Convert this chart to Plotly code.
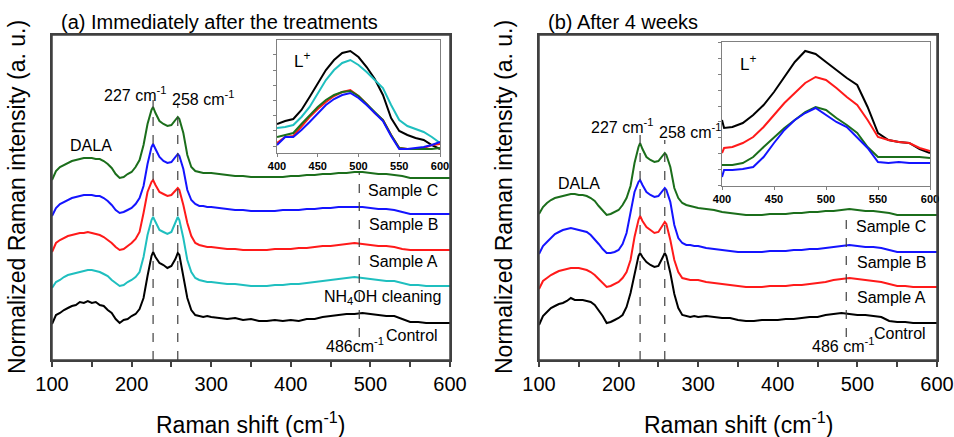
import plotly.graph_objects as go

# ---------------- data ----------------
x_main = [100, 105, 110, 115, 120, 125, 130, 135, 140, 145, 150, 155, 160, 165, 170, 175, 180, 185, 190, 195,
          200, 205, 210, 215, 220, 225, 227, 230, 235, 240, 245, 250, 255, 258, 260, 265, 270, 275, 280, 285,
          290, 295, 300, 310, 320, 330, 340, 350, 360, 370, 380, 390, 400, 410, 420, 430, 440, 450, 460, 470,
          480, 490, 500, 510, 520, 530, 540, 550, 560, 570, 580, 590, 600]

# panel (a) immediately after the treatments (stacked, arbitrary units)
a_control = [36, 45, 47, 50, 52, 54, 55, 58, 57, 59, 57, 58, 55, 54, 50, 47, 41, 37, 40, 41,
             44, 46, 51, 62, 84, 104, 108, 103, 97, 95, 92, 94, 101, 107, 105, 84, 62, 50, 45, 44,
             43, 44, 43, 42, 41, 42, 40, 41, 39, 39, 40, 39, 40, 39, 41, 41, 43, 44, 45, 46,
             46, 47, 46, 45, 44, 44, 41, 38, 38, 37, 37, 37, 37]
a_nh4oh = [72, 78, 80, 83, 85, 86, 87, 88, 89, 90, 90, 89, 88, 86, 84, 80, 77, 74, 75, 78,
           80, 83, 88, 103, 125, 140, 143, 138, 130, 128, 126, 128, 137, 143, 140, 122, 100, 88, 82, 80,
           79, 78, 78, 77, 76, 76, 75, 74, 74, 74, 75, 75, 76, 76, 77, 78, 79, 80, 81, 82,
           83, 82, 81, 80, 79, 79, 77, 75, 75, 74, 74, 74, 74]
a_sample_a = [108, 117, 120, 122, 124, 125, 126, 127, 127, 128, 127, 126, 125, 123, 120, 117, 113, 110, 111, 114,
              117, 121, 128, 147, 168, 178, 180, 175, 168, 166, 164, 165, 170, 172, 170, 155, 137, 124, 117, 115,
              114, 113, 113, 112, 111, 111, 110, 110, 110, 110, 111, 111, 111, 112, 112, 113, 114, 114, 115, 116,
              117, 116, 115, 114, 114, 113, 111, 110, 110, 110, 110, 110, 110]
a_sample_b = [144, 152, 156, 158, 160, 162, 163, 164, 165, 165, 165, 164, 164, 162, 159, 155, 150, 147, 148, 150,
              152, 156, 162, 174, 196, 213, 216, 211, 203, 199, 197, 198, 203, 206, 204, 191, 170, 160, 156, 154,
              154, 153, 153, 152, 151, 150, 150, 149, 149, 149, 149, 150, 150, 150, 151, 151, 152, 152, 153, 153,
              153, 153, 152, 151, 151, 150, 148, 146, 146, 146, 146, 146, 146]
a_sample_c = [180, 189, 193, 195, 197, 199, 200, 201, 202, 202, 202, 201, 201, 199, 196, 192, 186, 182, 183, 186,
              188, 193, 200, 215, 236, 250, 253, 247, 239, 236, 234, 235, 240, 243, 241, 227, 205, 193, 189, 188,
              187, 187, 187, 186, 185, 184, 184, 183, 183, 183, 183, 183, 184, 184, 185, 185, 186, 186, 187, 187,
              188, 188, 187, 186, 186, 185, 184, 182, 182, 182, 182, 182, 182]

# panel (b) after 4 weeks
b_control = [35, 44, 48, 52, 54, 56, 57, 59, 62, 60, 60, 60, 59, 58, 55, 50, 44, 37, 38, 40,
             42, 45, 53, 67, 87, 104, 107, 103, 98, 95, 93, 94, 102, 107, 104, 87, 66, 52, 45, 44,
             43, 44, 43, 44, 43, 42, 42, 40, 39, 39, 40, 40, 40, 41, 41, 42, 43, 43, 45, 46,
             47, 46, 45, 45, 44, 43, 39, 38, 38, 37, 37, 37, 37]
b_sample_a = [71, 79, 82, 85, 87, 89, 90, 91, 92, 92, 92, 91, 90, 88, 85, 81, 77, 73, 74, 76,
              78, 82, 88, 100, 123, 140, 144, 139, 133, 130, 127, 128, 134, 138, 136, 120, 100, 88, 82, 81,
              80, 80, 80, 78, 77, 76, 75, 74, 73, 73, 73, 74, 74, 74, 75, 75, 76, 77, 78, 80,
              81, 82, 81, 80, 79, 78, 76, 74, 74, 73, 73, 73, 73]
b_sample_b = [106, 114, 118, 122, 126, 128, 130, 131, 132, 131, 130, 129, 128, 125, 121, 116, 111, 107, 107, 108,
              110, 116, 127, 147, 168, 178, 180, 175, 168, 165, 163, 164, 169, 172, 170, 158, 135, 122, 117, 115,
              115, 114, 114, 112, 111, 110, 109, 108, 108, 108, 108, 109, 109, 109, 110, 110, 111, 111, 112, 113,
              114, 115, 114, 113, 113, 112, 110, 108, 108, 108, 108, 108, 108]
b_sample_c = [146, 153, 157, 160, 162, 163, 164, 165, 166, 166, 165, 165, 164, 162, 159, 154, 149, 145, 146, 148,
              150, 155, 162, 174, 197, 213, 217, 211, 203, 200, 198, 199, 204, 207, 205, 193, 172, 162, 157, 155,
              154, 153, 152, 151, 150, 148, 147, 146, 145, 145, 145, 146, 146, 146, 147, 147, 148, 148, 149, 149,
              150, 151, 150, 149, 149, 148, 147, 145, 145, 145, 145, 145, 145]

# insets (L+ band)
x_inset_a = [400, 410, 420, 430, 440, 450, 460, 470, 480, 490, 500, 510, 520, 530, 540, 550, 560, 570, 580, 590, 600]
ia_control = [29, 32, 34, 43, 56, 70, 83, 93, 100, 102, 96, 86, 74, 58, 35, 22, 18, 15, 13, 8, 4]
ia_nh4oh = [25, 26, 28, 36, 46, 59, 73, 83, 90, 93, 88, 81, 73, 65, 48, 33, 27, 24, 21, 16, 10]
ia_sample_a = [10, 16, 17, 27, 36, 44, 51, 57, 61, 63, 57, 49, 40, 33, 18, 5, 4, 4, 5, 8, 9]
ia_sample_c = [16, 18, 20, 29, 38, 46, 53, 58, 61, 62, 57, 49, 40, 33, 18, 5, 4, 4, 4, 4, 5]
ia_sample_b = [8, 16, 16, 23, 31, 40, 48, 54, 58, 60, 55, 48, 40, 32, 17, 4, 4, 5, 6, 8, 11]

x_inset_b = [400, 402, 410, 420, 430, 440, 450, 460, 470, 480, 490, 500, 510, 520, 530, 540, 550, 560, 570, 580, 590, 600]
ib_control = [66, 58, 59, 63, 71, 81, 94, 109, 124, 135, 132, 124, 116, 108, 101, 79, 53, 46, 44, 43, 37, 33]
ib_sample_a = [33, 38, 39, 43, 49, 59, 71, 83, 93, 103, 109, 106, 98, 89, 81, 66, 49, 46, 44, 43, 38, 35]
ib_sample_c = [21, 21, 21, 23, 29, 39, 49, 58, 66, 74, 79, 76, 68, 61, 53, 39, 29, 29, 29, 29, 29, 28]
ib_sample_b = [9, 16, 16, 17, 19, 29, 43, 56, 66, 73, 78, 71, 64, 59, 49, 38, 24, 23, 24, 23, 23, 23]

peak_positions = [227, 258, 486]
x_ticks_main = [100, 200, 300, 400, 500, 600]
x_ticks_inset = [400, 450, 500, 550, 600]

# ---------------- styling ----------------
W, H = 954, 437
FONT = "Liberation Sans, Arial, sans-serif"
C_BLACK = "#000000"
C_CYAN = "#1FBFBF"
C_RED = "#FF1A1A"
C_BLUE = "#1414FF"
C_GREEN = "#1B6E1B"
AX = "#404040"


def px(x):
    return x / W


def py(y):
    return 1 - y / H


fig = go.Figure()


def add(x, y, color, xa, ya, width=2):
    fig.add_trace(go.Scatter(x=x, y=y, mode="lines", line=dict(color=color, width=width),
                             xaxis=xa, yaxis=ya, showlegend=False, hoverinfo="skip"))


# main (a)
for ser, col in [(a_control, C_BLACK), (a_nh4oh, C_CYAN), (a_sample_a, C_RED),
                 (a_sample_b, C_BLUE), (a_sample_c, C_GREEN)]:
    add(x_main, ser, col, "x", "y")
# main (b)
for ser, col in [(b_control, C_BLACK), (b_sample_a, C_RED), (b_sample_b, C_BLUE), (b_sample_c, C_GREEN)]:
    add(x_main, ser, col, "x2", "y2")
# inset (a)
for ser, col in [(ia_control, C_BLACK), (ia_nh4oh, C_CYAN), (ia_sample_a, C_RED),
                 (ia_sample_c, C_GREEN), (ia_sample_b, C_BLUE)]:
    add(x_inset_a, ser, col, "x3", "y3")
# inset (b)
for ser, col in [(ib_control, C_BLACK), (ib_sample_a, C_RED), (ib_sample_c, C_GREEN), (ib_sample_b, C_BLUE)]:
    add(x_inset_b, ser, col, "x4", "y4")

main_x = dict(range=[100, 600], tickvals=x_ticks_main, ticks="outside", ticklen=5, tickwidth=1.5,
              tickcolor=AX, showline=True, linecolor=AX, linewidth=1.5, mirror=True, showgrid=False,
              zeroline=False, automargin=False, tickfont=dict(family=FONT, size=20, color="#000"),
              minor=dict(dtick=50, ticks="outside", ticklen=5, tickwidth=1.5, tickcolor=AX))
main_y = dict(range=[0, 325], showticklabels=False, ticks="", showline=True, linecolor=AX, linewidth=1.5,
              mirror=True, showgrid=False, zeroline=False, automargin=False)
inset_x = dict(range=[400, 600], tickvals=x_ticks_inset, ticks="outside", ticklen=3, tickcolor="#808080",
               showline=True, linecolor="#808080", linewidth=1, mirror=True, showgrid=False, zeroline=False,
               automargin=False, tickfont=dict(family=FONT, size=11, color="#000", weight="bold"))
inset_y = dict(showticklabels=False, ticks="outside", ticklen=3, tickcolor="#808080", showline=True,
               linecolor="#808080", linewidth=1, mirror=True, showgrid=False, zeroline=False, automargin=False)

fig.update_layout(
    width=W, height=H, margin=dict(l=0, r=0, t=0, b=0, pad=0, autoexpand=False),
    paper_bgcolor="white", plot_bgcolor="rgba(0,0,0,0)", showlegend=False,
    font=dict(family=FONT, color="#000"),
    xaxis=dict(domain=[px(52), px(450)], anchor="y", **main_x),
    yaxis=dict(domain=[py(360), py(35)], anchor="x", **main_y),
    xaxis2=dict(domain=[px(539), px(937)], anchor="y2", **main_x),
    yaxis2=dict(domain=[py(360), py(35)], anchor="x2", **main_y),
    xaxis3=dict(domain=[px(277), px(440)], anchor="y3", **inset_x),
    yaxis3=dict(domain=[py(153), py(40)], anchor="x3", range=[0, 113], tick0=7, dtick=15.2, **inset_y),
    xaxis4=dict(domain=[px(722), px(930)], anchor="y4", **inset_x),
    yaxis4=dict(domain=[py(186), py(42)], anchor="x4", range=[0, 144], tick0=1, dtick=15.8, **inset_y),
)

# frames of the two main panels and dashed marker lines
shapes = []
for xr, yr in (("x", "y"), ("x2", "y2")):
    shapes.append(dict(type="rect", xref=xr + " domain", yref=yr + " domain", x0=0, x1=1, y0=0, y1=1,
                       line=dict(color=AX, width=1.5), fillcolor="rgba(0,0,0,0)", layer="above"))
dash_spec = [("x", "y", [(0, 260), (0, 257), (23, 187)]),
             ("x2", "y2", [(0, 225), (0, 220), (23, 147)])]
for xr, yr, spans in dash_spec:
    for pos, (y0, y1) in zip(peak_positions, spans):
        shapes.append(dict(type="line", xref=xr, yref=yr, x0=pos, x1=pos, y0=y0, y1=y1,
                           line=dict(color="#404040", width=1.2, dash="dash")))
fig.update_layout(shapes=shapes)

ann = []


def label(text, x, y, xref, yref, size=16, xanchor="center", yanchor="middle", angle=0):
    ann.append(dict(text=text, x=x, y=y, xref=xref, yref=yref, showarrow=False, xanchor=xanchor,
                    yanchor=yanchor, textangle=angle, font=dict(family=FONT, size=size, color="#000")))


# panel titles
label("(a) Immediately after the treatments", px(59), py(22), "paper", "paper", size=20, xanchor="left")
label("(b) After 4 weeks", px(546), py(22), "paper", "paper", size=20, xanchor="left")
# axis titles
for cx in (251, 738):
    label("Raman shift (cm<sup>-1</sup>)", px(cx), py(423), "paper", "paper", size=23)
for cx in (17, 504):
    label("Normalized Raman intensity (a. u.)", px(cx), py(197), "paper", "paper", size=23, angle=-90)

# panel (a) labels
label("DALA", 149, 215, "x", "y")
label("227 cm<sup>-1</sup>", 204, 266, "x", "y")
label("258 cm<sup>-1</sup>", 290, 262, "x", "y")
label("Sample C", 588, 170, "x", "y", xanchor="right")
label("Sample B", 588, 136, "x", "y", xanchor="right")
label("Sample A", 588, 99, "x", "y", xanchor="right")
label("NH<sub>4</sub>OH cleaning", 591, 63, "x", "y", xanchor="right")
label("Control", 588, 25, "x", "y", xanchor="right")
label("486cm<sup>-1</sup>", 481, 15, "x", "y")
label("L<sup>+</sup>", 418, 93, "x3", "y3", xanchor="left", size=17)

# panel (b) labels
label("DALA", 150, 177, "x2", "y2")
label("227 cm<sup>-1</sup>", 204, 234, "x2", "y2")
label("258 cm<sup>-1</sup>", 290, 229, "x2", "y2")
label("Sample C", 589, 134, "x2", "y2", xanchor="right")
label("Sample B", 589, 98, "x2", "y2", xanchor="right")
label("Sample A", 589, 63, "x2", "y2", xanchor="right")
label("Control", 589, 27, "x2", "y2", xanchor="right")
label("486 cm<sup>-1</sup>", 482, 15, "x2", "y2")
label("L<sup>+</sup>", 415, 123, "x4", "y4", xanchor="left", size=17)

fig.update_layout(annotations=ann)
fig.write_html("out.html")
